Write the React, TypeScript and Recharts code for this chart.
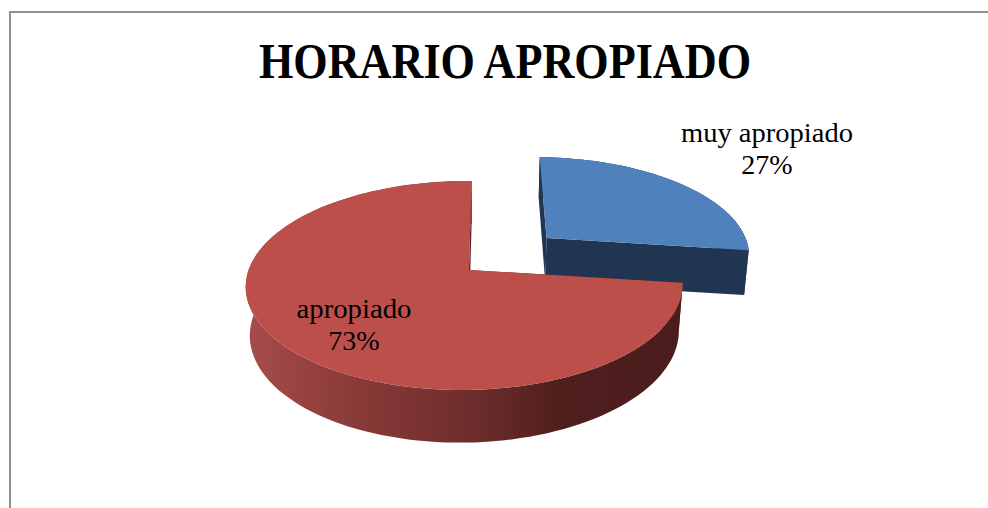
import { PieChart, Pie } from 'recharts';

const categories = ['muy apropiado', 'apropiado'];
const shares = [27, 73];
const percentLabels = ['27%', '73%'];

const topColors = ['#4f81bd', '#bd4f4b'];
const wallColors = ['#1f3552', '#4f1e1d'];
const bandFills = ['#1f3552', 'url(#redSide)'];

const pieData = categories.map((name, i) => ({
  name,
  value: shares[i],
  fill: topColors[i],
  wall: wallColors[i],
  band: bandFills[i],
  explode: i === 0 ? 0.5 : 0,
  labelDx: i === 0 ? 298 : -115,
  labelDy: i === 0 ? -128 : 48,
}));

// fake 3D: the pie plane is pushed through a small perspective
const TILT = 0.473;
const PERSPECTIVE = 0.148;
const SIDE_PERSPECTIVE = 0.02;
const SKEW = 0.012;
const DEPTH = 0.222;
const DEPTH_SHRINK = 0.018;

const project = (cx: number, cy: number, r: number, px: number, py: number, z: number) => {
  const w = 1 + PERSPECTIVE * py + SIDE_PERSPECTIVE * px + DEPTH_SHRINK * z;
  return [cx + (r * px) / w + r * SKEW * py, cy - (r * TILT * py) / w + (r * DEPTH * z) / w];
};

const toPath = (pts: number[][]) =>
  pts.map((p, i) => `${i === 0 ? 'M' : 'L'}${p[0].toFixed(1)},${p[1].toFixed(1)}`).join(' ') + ' Z';

const Slice3D = (props: any) => {
  const { cx, cy, outerRadius, startAngle, endAngle, midAngle, payload } = props;
  const slice = payload?.payload ?? payload;
  const mid = (midAngle * Math.PI) / 180;
  const ox = Math.cos(mid) * slice.explode;
  const oy = Math.sin(mid) * slice.explode;
  const steps = 120;
  const rim: number[][] = [];
  for (let i = 0; i <= steps; i++) {
    const a = ((startAngle + ((endAngle - startAngle) * i) / steps) * Math.PI) / 180;
    rim.push([ox + Math.cos(a), oy + Math.sin(a)]);
  }
  const at = (p: number[], z: number) => project(cx, cy, outerRadius, p[0], p[1], z);
  const apex = [ox, oy];
  const first = rim[0];
  const last = rim[rim.length - 1];
  const band = [...rim.map((p) => at(p, 0)), ...rim.slice().reverse().map((p) => at(p, 1))];
  const wallA = [at(apex, 0), at(first, 0), at(first, 1), at(apex, 1)];
  const wallB = [at(apex, 0), at(last, 0), at(last, 1), at(apex, 1)];
  const top = [at(apex, 0), ...rim.map((p) => at(p, 0))];
  return (
    <g>
      <path d={toPath(wallA)} fill={slice.wall} />
      <path d={toPath(wallB)} fill={slice.wall} />
      <path d={toPath(band)} fill={slice.band} />
      <path d={toPath(top)} fill={slice.fill} />
    </g>
  );
};

const renderLabel = (props: any) => {
  const { cx, cy, index, payload } = props;
  const slice = payload?.payload ?? payload;
  const x = cx + slice.labelDx;
  const y = cy + slice.labelDy;
  return (
    <text x={x} y={y} textAnchor="middle" fontFamily="'Liberation Serif', serif" fontSize={28} fill="#000">
      <tspan x={x} textLength={index === 0 ? 172 : 115} lengthAdjust="spacingAndGlyphs">{slice.name}</tspan>
      <tspan x={x} dy={32}>{percentLabels[index]}</tspan>
    </text>
  );
};

export default function App() {
  return (
    <div style={{ position: 'absolute', left: 0, top: 0, width: 988, height: 508, overflow: 'hidden', background: '#fff' }}>
      <div
        style={{
          position: 'absolute',
          left: 9,
          top: 11,
          right: 0,
          bottom: 0,
          borderLeft: '2px solid #929292',
          borderTop: '2px solid #929292',
        }}
      />
      <div style={{ position: 'absolute', left: 0, top: 0 }}>
        <PieChart width={988} height={508} margin={{ top: 0, right: 0, bottom: 0, left: 0 }}>
          <defs>
            <linearGradient id="redSide" gradientUnits="userSpaceOnUse" x1="250" y1="0" x2="680" y2="0">
              <stop offset="0%" stopColor="#a54c49" />
              <stop offset="25%" stopColor="#893a38" />
              <stop offset="50%" stopColor="#6f2e2d" />
              <stop offset="72%" stopColor="#4f1f1e" />
              <stop offset="100%" stopColor="#4a1c1b" />
            </linearGradient>
          </defs>
          <text
            x={505}
            y={78}
            textAnchor="middle"
            fontFamily="'Liberation Serif', serif"
            fontWeight="bold"
            fontSize={50}
            fill="#000"
            textLength={492}
            lengthAdjust="spacingAndGlyphs"
          >
            HORARIO APROPIADO
          </text>
          <Pie
            data={pieData}
            dataKey="value"
            nameKey="name"
            cx={469}
            cy={270}
            outerRadius={216}
            startAngle={90}
            endAngle={-270}
            paddingAngle={0}
            stroke="none"
            isAnimationActive={false}
            shape={Slice3D}
            label={renderLabel}
            labelLine={false}
          />
        </PieChart>
      </div>
    </div>
  );
}
